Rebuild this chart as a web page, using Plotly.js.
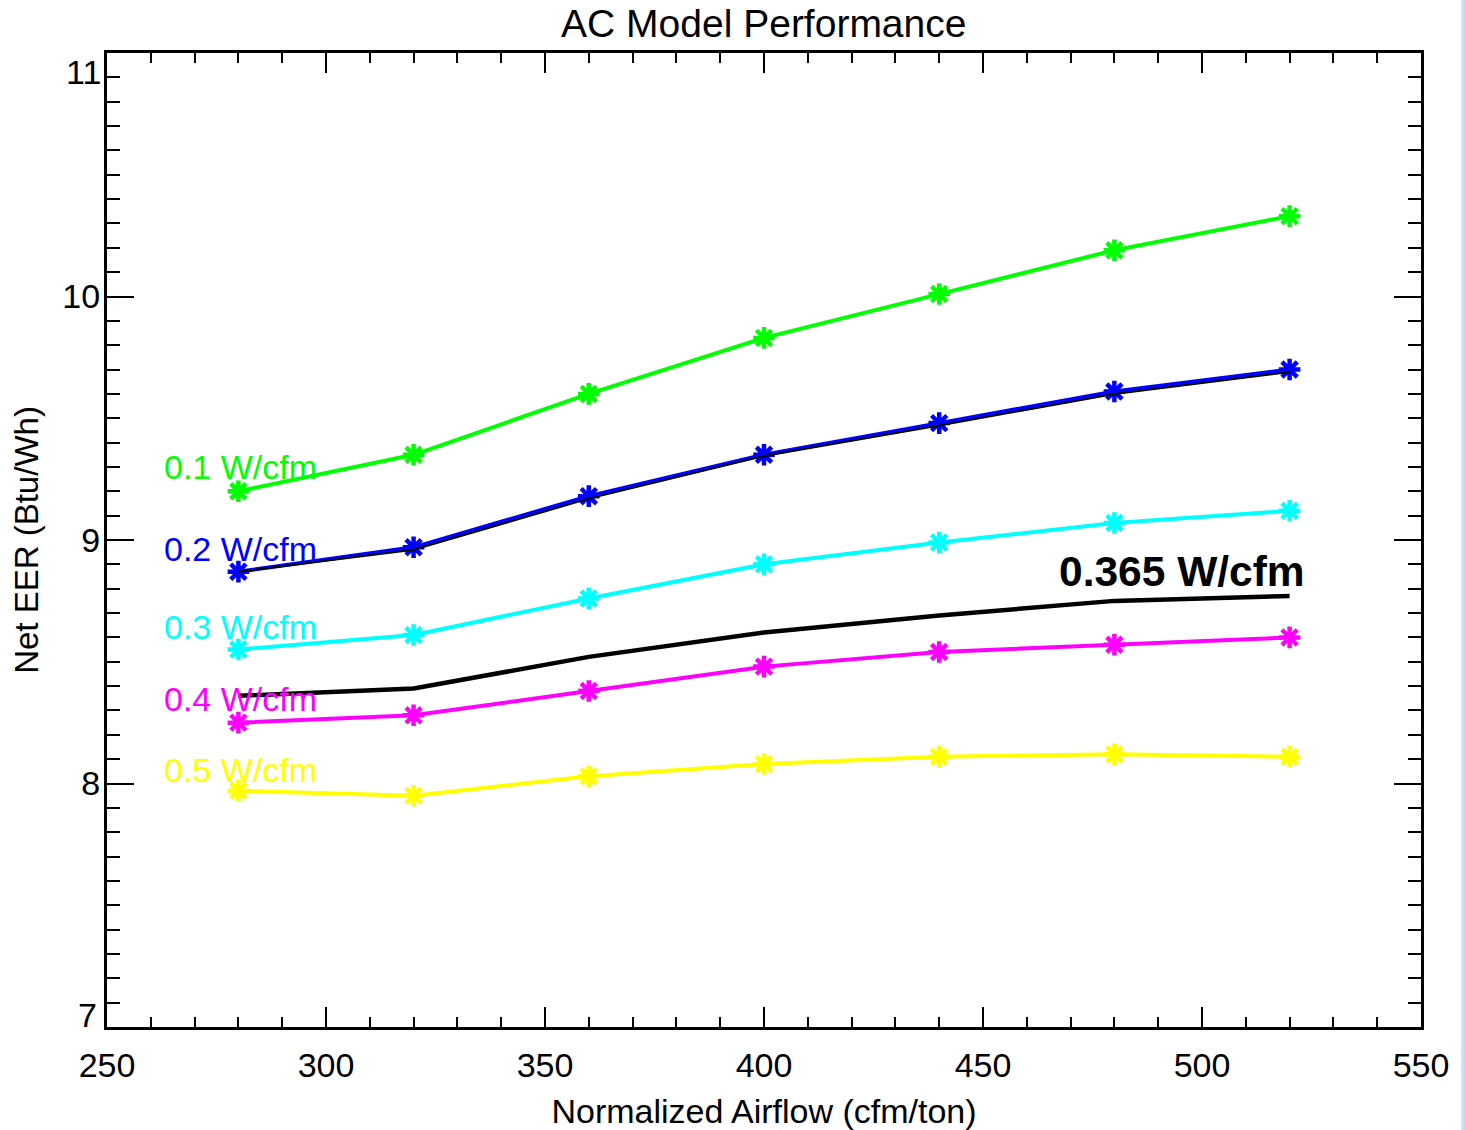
<!DOCTYPE html>
<html>
<head>
<meta charset="utf-8">
<script src="https://cdn.plot.ly/plotly-3.0.1.min.js"></script>
<style>
html,body{margin:0;padding:0;background:#fff;}
#chart{width:1466px;height:1130px;}
#edge{position:absolute;left:1461px;top:0;width:5px;height:1130px;background:linear-gradient(to right,#d8e8fb,#b8d4f6);}
</style>
</head>
<body>
<div id="chart"></div>
<div id="edge"></div>
<script>
// Normalized airflow (cfm/ton)
const airflow = [280, 320, 360, 400, 440, 480, 520];
// Net EER (Btu/Wh) per fan power
const eer01 = [9.20, 9.35, 9.60, 9.83, 10.01, 10.19, 10.33];
const eer02 = [8.87, 8.97, 9.18, 9.35, 9.48, 9.61, 9.70];
const eer02ref = [8.87, 8.96, 9.17, 9.345, 9.47, 9.60, 9.69];
const eer03 = [8.55, 8.61, 8.76, 8.90, 8.99, 9.07, 9.12];
const eer0365 = [8.36, 8.39, 8.52, 8.62, 8.69, 8.75, 8.77];
const eer04 = [8.25, 8.28, 8.38, 8.48, 8.54, 8.57, 8.60];
const eer05 = [7.97, 7.95, 8.03, 8.08, 8.11, 8.12, 8.11];

const seriesLabels = ['0.1 W/cfm', '0.2 W/cfm', '0.3 W/cfm', '0.4 W/cfm', '0.5 W/cfm'];
const labelY = [9.30, 8.963, 8.643, 8.347, 8.055];
const colors = ['#00ff00', '#0000ff', '#00ffff', '#ff00ff', '#ffff00'];
const boldLabel = '0.365 W/cfm';
const yTickVals = [7, 8, 9, 10, 11];
const xTickVals = [250, 300, 350, 400, 450, 500, 550];

const FONT = 'Liberation Sans, Arial, Helvetica, sans-serif';

function markedLine(y, color) {
  return {
    x: airflow, y: y, type: 'scatter', mode: 'lines+markers',
    line: {color: color, width: 4},
    marker: {symbol: 'asterisk-open', size: 18, color: color, line: {color: color, width: 4.5}},
    hoverinfo: 'x+y'
  };
}

const traces = [
  markedLine(eer01, colors[0]),
  markedLine(eer02, colors[1]),
  {x: airflow, y: eer02ref, type: 'scatter', mode: 'lines', line: {color: '#000', width: 2}},
  markedLine(eer03, colors[2]),
  {x: airflow, y: eer0365, type: 'scatter', mode: 'lines', line: {color: '#000', width: 4.5}},
  markedLine(eer04, colors[3]),
  markedLine(eer05, colors[4])
];

const annotations = seriesLabels.map((t, i) => ({
  x: 262.6, y: labelY[i], xref: 'x', yref: 'y', text: t, showarrow: false,
  xanchor: 'left', yanchor: 'middle', font: {family: FONT, size: 34, color: colors[i]}
}));
annotations.push({
  x: 466.9, y: 8.869, xref: 'x', yref: 'y', text: '<b>' + boldLabel + '</b>', showarrow: false,
  xanchor: 'left', yanchor: 'middle', font: {family: FONT, size: 42.5, color: '#000'}
});
// end tick labels shifted inside the frame
annotations.push({x: 0, xref: 'paper', y: 11, yref: 'y', text: '11', showarrow: false,
  xanchor: 'right', yanchor: 'middle', xshift: -4, yshift: -19, font: {family: FONT, size: 34, color: '#000'}});
annotations.push({x: 0, xref: 'paper', y: 7, yref: 'y', text: '7', showarrow: false,
  xanchor: 'right', yanchor: 'middle', xshift: -8, yshift: 12, font: {family: FONT, size: 34, color: '#000'}});

const layout = {
  width: 1466, height: 1130,
  margin: {l: 107, r: 45, t: 53, b: 103},
  paper_bgcolor: '#fff', plot_bgcolor: '#fff',
  showlegend: false,
  font: {family: FONT, color: '#000'},
  title: {text: 'AC Model Performance', x: 0.521, xanchor: 'center', y: 0.979, yanchor: 'middle',
    font: {family: FONT, size: 39, color: '#000'}},
  xaxis: {
    range: [250, 550], tickvals: xTickVals, ticktext: xTickVals.map(String),
    ticks: 'inside', ticklen: 20, tickwidth: 2, tickcolor: '#000',
    minor: {dtick: 10, ticks: 'inside', ticklen: 10, tickwidth: 2, tickcolor: '#000'},
    showline: true, linewidth: 3, linecolor: '#000', mirror: 'allticks',
    showgrid: false, zeroline: false,
    tickfont: {family: FONT, size: 34, color: '#000'}, ticklabelstandoff: 6,
    title: {text: 'Normalized Airflow (cfm/ton)', font: {family: FONT, size: 34, color: '#000'}, standoff: 24}
  },
  yaxis: {
    range: [7, 11], tickvals: yTickVals, ticktext: ['', '8', '9', '10', ''],
    ticks: 'inside', ticklen: 27, tickwidth: 2, tickcolor: '#000',
    minor: {dtick: 0.1, ticks: 'inside', ticklen: 13, tickwidth: 2, tickcolor: '#000'},
    showline: true, linewidth: 3, linecolor: '#000', mirror: 'allticks',
    showgrid: false, zeroline: false,
    tickfont: {family: FONT, size: 34, color: '#000'}, ticklabelstandoff: -3,
    title: {text: 'Net EER (Btu/Wh)', font: {family: FONT, size: 33, color: '#000'}, standoff: 14}
  },
  annotations: annotations
};

Plotly.newPlot('chart', traces, layout, {displayModeBar: false, staticPlot: true});
</script>
</body>
</html>
